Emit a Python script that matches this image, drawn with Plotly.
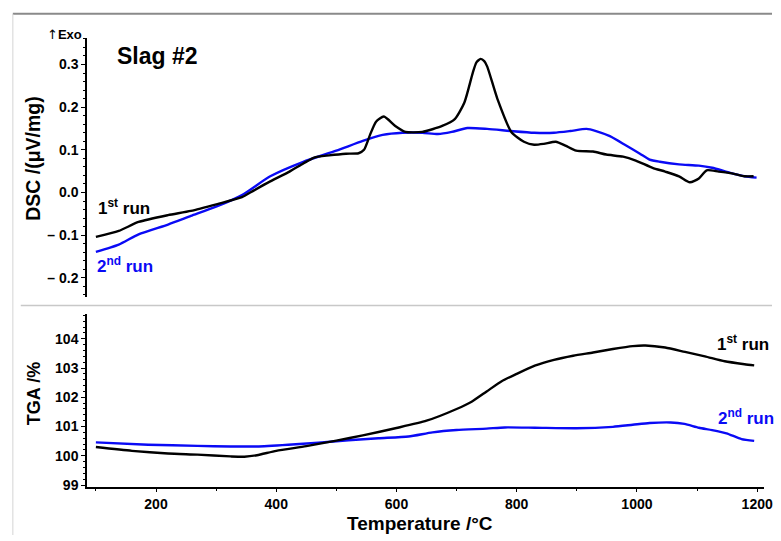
import plotly.graph_objects as go

# ---- DSC signal (µV/mg) vs temperature (°C) ----
dsc_run1_t = [100, 138, 171, 220, 258, 302, 343, 363, 390, 422, 445, 463, 488, 516, 537,
              546, 556, 566, 579, 598, 615, 643, 676, 697, 713, 727, 733, 740, 746, 751,
              768, 791, 812, 829, 845, 865, 881, 899, 927, 949, 977, 998, 1026, 1047, 1070,
              1088, 1103, 1116, 1136, 1158, 1179, 1194]
dsc_run1 = [-0.104, -0.090, -0.069, -0.053, -0.043, -0.027, -0.011, 0.005, 0.026, 0.049,
            0.068, 0.082, 0.087, 0.091, 0.092, 0.100, 0.135, 0.166, 0.178, 0.156, 0.142,
            0.142, 0.156, 0.172, 0.211, 0.281, 0.305, 0.313, 0.308, 0.295, 0.219, 0.142,
            0.119, 0.112, 0.114, 0.119, 0.110, 0.098, 0.096, 0.089, 0.084, 0.075, 0.058,
            0.049, 0.038, 0.024, 0.033, 0.052, 0.049, 0.045, 0.038, 0.038]

dsc_run2_t = [100, 138, 171, 220, 258, 302, 343, 390, 445, 500, 544, 577, 610, 643, 669,
              692, 718, 751, 791, 829, 862, 889, 916, 932, 955, 982, 1005, 1021, 1038,
              1070, 1103, 1125, 1153, 1179, 1199]
dsc_run2 = [-0.139, -0.122, -0.098, -0.075, -0.055, -0.032, -0.006, 0.038, 0.072, 0.098,
            0.121, 0.135, 0.140, 0.140, 0.137, 0.142, 0.151, 0.149, 0.144, 0.140, 0.140,
            0.144, 0.149, 0.144, 0.132, 0.110, 0.091, 0.077, 0.072, 0.066, 0.063, 0.058,
            0.047, 0.038, 0.035]

# ---- TGA mass (%) vs temperature (°C) ----
tga_run1_t = [100, 160, 220, 269, 324, 347, 368, 400, 450, 500, 544, 600, 650, 700, 725,
              750, 775, 800, 830, 862, 894, 927, 960, 993, 1014, 1047, 1080, 1113, 1146,
              1179, 1195]
tga_run1 = [100.30, 100.17, 100.08, 100.04, 99.98, 99.97, 100.02, 100.17, 100.33, 100.52,
            100.70, 100.95, 101.20, 101.60, 101.85, 102.20, 102.55, 102.80, 103.08, 103.28,
            103.42, 103.53, 103.65, 103.75, 103.77, 103.70, 103.55, 103.40, 103.23, 103.13,
            103.09]

tga_run2_t = [100, 187, 269, 324, 368, 420, 470, 520, 570, 620, 660, 700, 750, 780, 830,
              899, 960, 993, 1021, 1056, 1079, 1103, 1125, 1149, 1174, 1195]
tga_run2 = [100.46, 100.38, 100.34, 100.32, 100.32, 100.38, 100.45, 100.53, 100.60, 100.66,
            100.80, 100.88, 100.93, 100.97, 100.96, 100.94, 100.99, 101.06, 101.12, 101.14,
            101.09, 100.96, 100.88, 100.77, 100.57, 100.51]

# axis ticks
x_ticks = [200, 400, 600, 800, 1000, 1200]
dsc_tickvals = [-0.2, -0.1, 0.0, 0.1, 0.2, 0.3]
dsc_ticktext = ["\u2013 0.2", "\u2013 0.1", "0.0", "0.1", "0.2", "0.3"]
tga_tickvals = [99, 100, 101, 102, 103, 104]

W, H = 781, 541
BLACK = "#000000"
BLUE = "#0a0af5"
FONT = "Liberation Sans, Arial, sans-serif"


def px(x):
    return x / W


def py(y):
    return 1 - y / H


fig = go.Figure()
line_w = 2.4
fig.add_trace(go.Scatter(x=dsc_run2_t, y=dsc_run2, mode="lines", xaxis="x2", yaxis="y2",
                         line=dict(color=BLUE, width=line_w, shape="spline", smoothing=0.6)))
fig.add_trace(go.Scatter(x=dsc_run1_t, y=dsc_run1, mode="lines", xaxis="x2", yaxis="y2",
                         line=dict(color=BLACK, width=line_w, shape="spline", smoothing=0.6)))
fig.add_trace(go.Scatter(x=tga_run2_t, y=tga_run2, mode="lines", xaxis="x", yaxis="y",
                         line=dict(color=BLUE, width=line_w, shape="spline", smoothing=0.6)))
fig.add_trace(go.Scatter(x=tga_run1_t, y=tga_run1, mode="lines", xaxis="x", yaxis="y",
                         line=dict(color=BLACK, width=line_w, shape="spline", smoothing=0.6)))

x_range = [85.2, 1211.5]
x_dom = [px(88), px(773)]
tickfont = dict(family=FONT, size=14, color=BLACK, weight="bold")

fig.update_layout(
    width=W, height=H,
    margin=dict(l=0, r=0, t=0, b=0),
    paper_bgcolor="white", plot_bgcolor="white",
    showlegend=False,
    xaxis=dict(domain=x_dom, anchor="y", range=x_range, tickvals=x_ticks,
               showline=True, linecolor=BLACK, linewidth=1.5, ticks="outside",
               ticklen=4, tickwidth=1.3, tickcolor=BLACK, tickfont=tickfont,
               ticklabeloverflow="allow", showgrid=False, zeroline=False,
               minor=dict(ticks="outside", dtick=100, tick0=0, ticklen=3,
                          tickcolor=BLACK, tickwidth=1.2)),
    yaxis=dict(domain=[py(492), py(318)], anchor="x", range=[98.95, 104.83],
               tickvals=tga_tickvals, showline=True, linecolor=BLACK, linewidth=1.5,
               ticks="outside", ticklen=4, tickwidth=1.3, tickcolor=BLACK,
               tickfont=tickfont, showgrid=False, zeroline=False,
               minor=dict(ticks="outside", dtick=0.2, tick0=99, ticklen=2,
                          tickcolor=BLACK, tickwidth=1)),
    xaxis2=dict(domain=x_dom, anchor="y2", range=x_range, visible=False),
    yaxis2=dict(domain=[py(300), py(38)], anchor="x2", range=[-0.244, 0.363],
                tickvals=dsc_tickvals, ticktext=dsc_ticktext, showline=True,
                linecolor=BLACK, linewidth=1.5, ticks="outside", ticklen=4,
                tickwidth=1.3, tickcolor=BLACK, tickfont=tickfont, showgrid=False,
                zeroline=False,
                minor=dict(ticks="outside", dtick=0.02, tick0=0, ticklen=2,
                           tickcolor=BLACK, tickwidth=1)),
)

# frame lines around the two panels
fig.add_shape(type="line", xref="paper", yref="paper", x0=px(13), x1=1, y0=py(14), y1=py(14),
              line=dict(color="#8a8a8a", width=2))
fig.add_shape(type="line", xref="paper", yref="paper", x0=px(13), x1=px(13), y0=py(14), y1=0,
              line=dict(color="#d4d4d4", width=1))
fig.add_shape(type="line", xref="paper", yref="paper", x0=px(21), x1=1, y0=py(309), y1=py(309),
              line=dict(color="#c8c8c8", width=1.5))


def label(text, x, y, size, color=BLACK, xanchor="left", angle=0):
    fig.add_annotation(text=text, xref="paper", yref="paper", x=px(x), y=py(y),
                       xanchor=xanchor, yanchor="middle", showarrow=False,
                       textangle=angle,
                       font=dict(family=FONT, size=size, color=color, weight="bold"))


label("<span style='font-family:DejaVu Sans;font-weight:normal'>\u2191</span>Exo",
      85, 35, 13, xanchor="right")
label("Slag #2", 116, 57, 23)
label("DSC /(\u03bcV/mg)", 34, 160, 19.5, xanchor="center", angle=-90)
label("TGA /%", 34, 398, 18, xanchor="center", angle=-90)
label("Temperature /\u00b0C", 425, 529, 19, xanchor="center")
label("1<sup>st</sup> run", 97, 209, 17)
label("2<sup>nd</sup> run", 96, 268, 17, color=BLUE)
label("1<sup>st</sup> run", 723, 347, 17)
label("2<sup>nd</sup> run", 724, 422, 17, color=BLUE)

fig.write_html("out.html")
